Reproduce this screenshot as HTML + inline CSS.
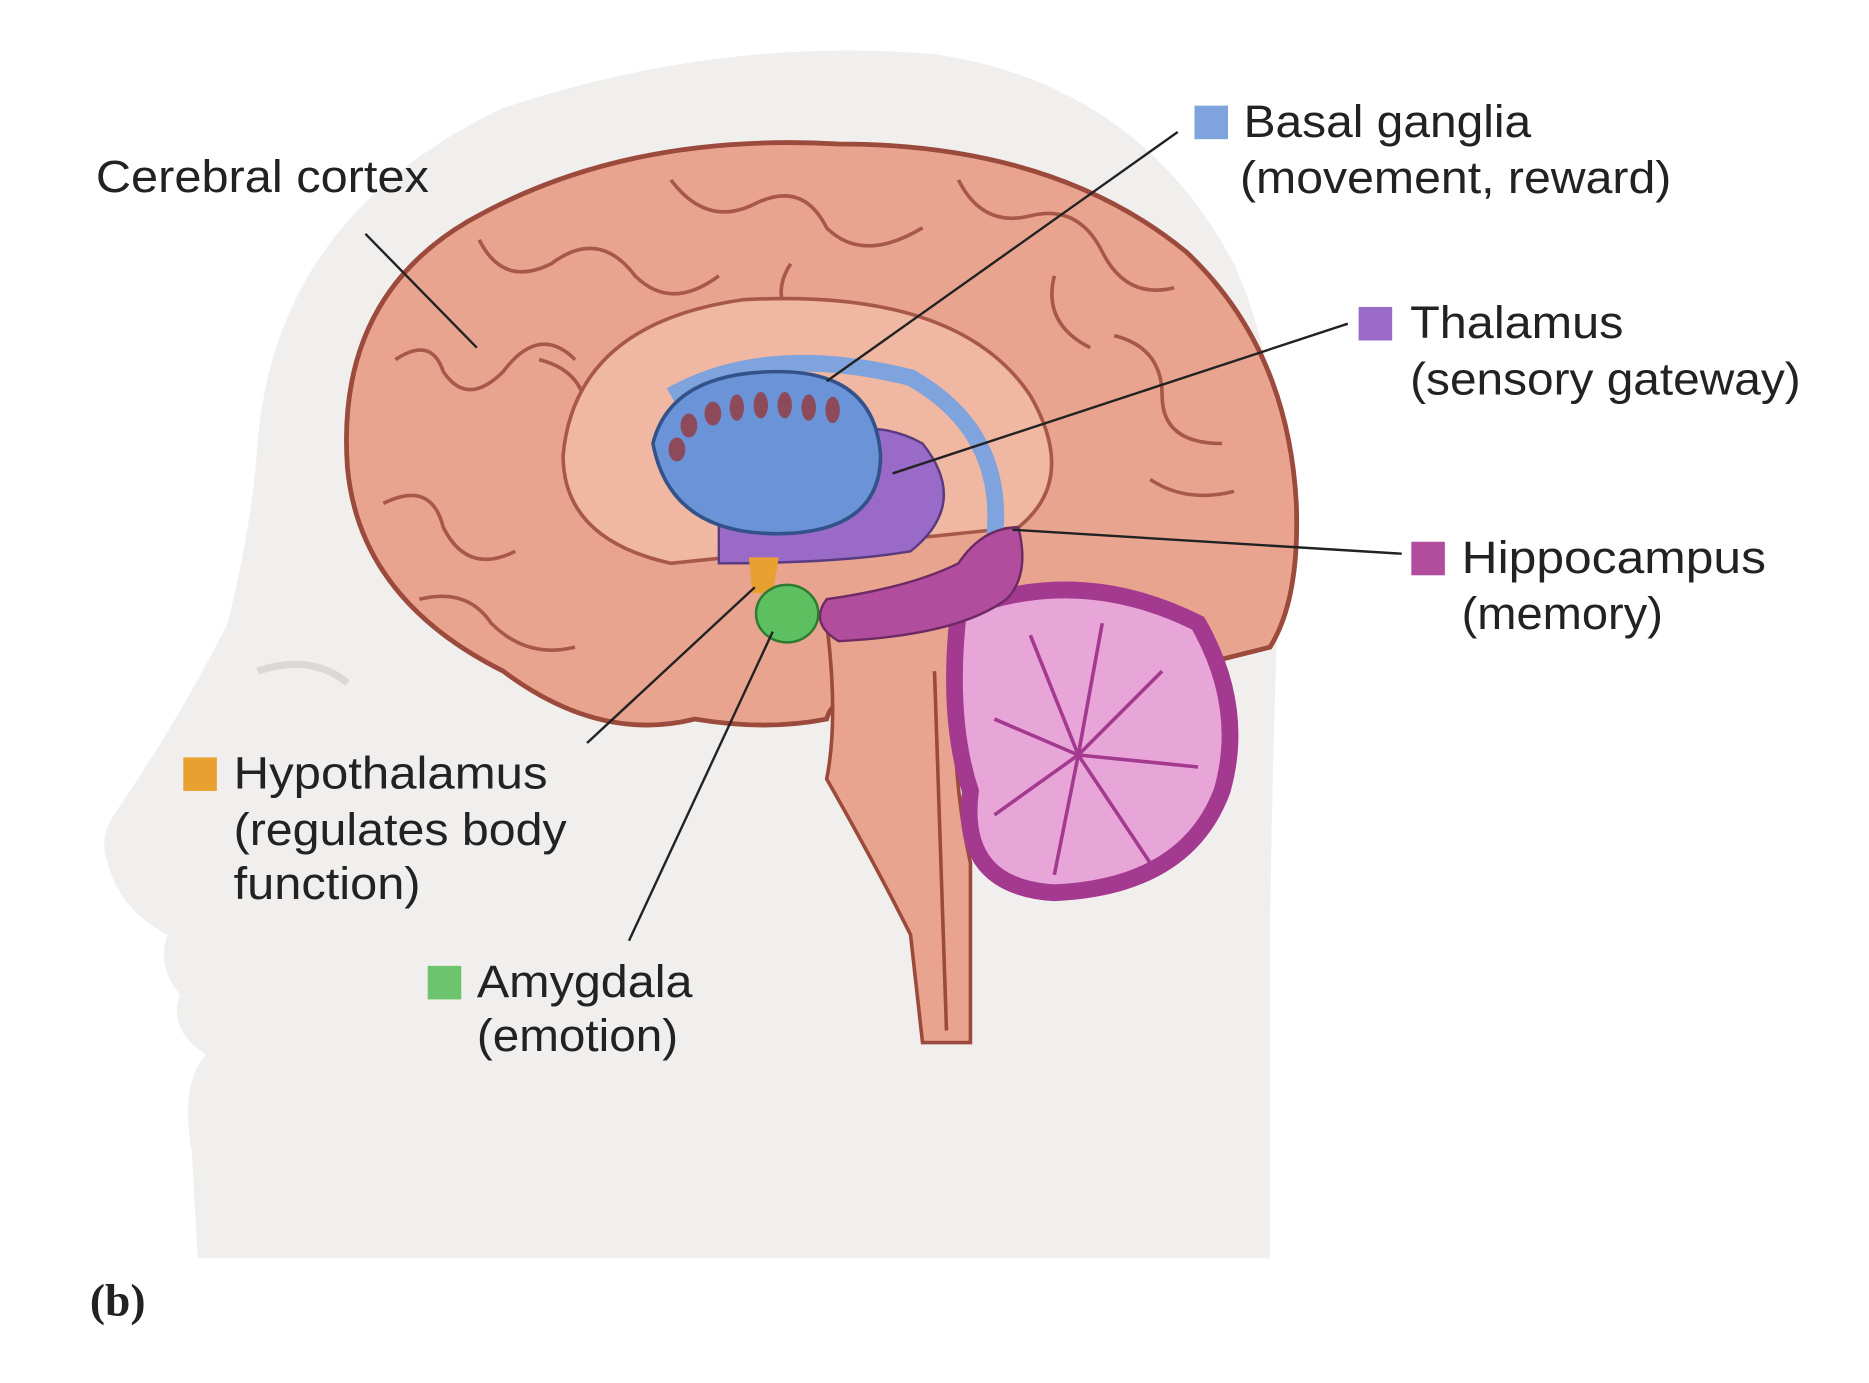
<!DOCTYPE html>
<html><head><meta charset="utf-8"><style>
html,body{margin:0;padding:0;background:#fff;}
svg{display:block;}
text{font-family:"Liberation Sans",sans-serif;fill:#222;}
</style></head><body>
<svg width="1869" height="1383" viewBox="0 0 1560 1154" xmlns="http://www.w3.org/2000/svg">
<rect width="1560" height="1154" fill="#fff"/>
<!-- head -->
<path d="M165 1050 L160 960 Q150 905 172 880 Q140 860 150 830 Q130 805 140 780 Q100 760 90 720 Q82 700 95 680 Q150 600 190 520 Q210 440 215 370 Q230 180 420 90 Q600 30 780 45 Q950 70 1030 220 Q1075 320 1068 470 Q1062 620 1060 780 L1060 1050 Z" fill="#f1efed"/>
<path d="M215 560 Q260 545 290 570" stroke="#dcd8d4" stroke-width="6" fill="none"/>
<!-- brain cortex -->
<path d="M290 390 Q280 250 390 185 Q520 110 700 120 Q880 120 990 210 Q1075 290 1082 420 Q1085 500 1060 540 L820 600 Q700 560 690 600 Q640 610 580 600 Q500 620 420 560 Q300 500 290 390 Z" fill="#e9a48f" stroke="#9b4a3c" stroke-width="4"/>
<g stroke="#a8584a" stroke-width="3" fill="none">
<path d="M330 300 q30 -20 40 10 q20 30 50 0 q30 -40 60 -10"/>
<path d="M400 200 q20 40 60 20 q40 -30 70 10 q30 30 70 0"/>
<path d="M560 150 q30 40 70 20 q40 -20 60 20 q30 30 80 0"/>
<path d="M800 150 q20 40 60 30 q40 -10 60 30 q20 40 60 30"/>
<path d="M320 420 q40 -20 50 20 q20 40 60 20"/>
<path d="M350 500 q40 -10 60 20 q30 30 70 20"/>
<path d="M930 280 q40 10 40 50 q0 40 50 40"/>
<path d="M960 400 q30 20 70 10"/>
<path d="M880 230 q-10 40 30 60"/>
<path d="M450 300 q40 10 40 50 q0 40 40 50"/>
<path d="M660 220 q-20 30 10 60 q30 20 60 0 q30 -20 60 10"/>
</g>
<!-- inner medial area -->
<path d="M470 380 Q480 270 620 250 Q800 240 860 330 Q900 400 850 440 L560 470 Q470 450 470 380 Z" fill="#f0b7a2" stroke="#a8584a" stroke-width="3"/>
<!-- brainstem -->
<path d="M690 520 Q700 600 690 650 Q730 720 760 780 L770 870 L810 870 L810 720 Q790 630 800 520 Z" fill="#e9a48f" stroke="#9b4a3c" stroke-width="3"/>
<path d="M780 560 L790 860" stroke="#9b4a3c" stroke-width="3"/>
<!-- cerebellum -->
<path d="M800 510 Q900 470 1000 520 Q1040 590 1020 660 Q990 740 880 745 Q800 740 810 660 Q790 600 800 510 Z" fill="#e8a6d8" stroke="#a43990" stroke-width="14"/>
<g stroke="#a43990" stroke-width="3" fill="none">
<path d="M900 630 L860 530 M900 630 L920 520 M900 630 L970 560 M900 630 L1000 640 M900 630 L960 720 M900 630 L880 730 M900 630 L830 680 M900 630 L830 600"/>
</g>
<!-- basal ganglia tail arc -->
<path d="M560 330 Q640 285 760 315 Q840 360 830 450 Q810 500 760 510" fill="none" stroke="#7ea3dd" stroke-width="14"/>
<!-- thalamus -->
<path d="M600 420 Q700 330 770 370 Q810 420 760 460 Q700 470 600 470 Z" fill="#9a6ac8" stroke="#5a3b80" stroke-width="2"/>
<!-- basal ganglia body -->
<path d="M545 370 Q560 310 650 310 Q730 310 735 380 Q735 440 660 445 Q560 450 545 370 Z" fill="#6b94d8" stroke="#34528a" stroke-width="3"/>
<g fill="#8c4a5a">
<ellipse cx="565" cy="375" rx="7" ry="10"/><ellipse cx="575" cy="355" rx="7" ry="10"/><ellipse cx="595" cy="345" rx="7" ry="10"/>
<ellipse cx="615" cy="340" rx="6" ry="11"/><ellipse cx="635" cy="338" rx="6" ry="11"/><ellipse cx="655" cy="338" rx="6" ry="11"/><ellipse cx="675" cy="340" rx="6" ry="11"/><ellipse cx="695" cy="342" rx="6" ry="11"/>
</g>
<!-- hypothalamus -->
<path d="M625 465 L650 465 L645 495 L628 495 Z" fill="#e8a030"/>
<!-- hippocampus -->
<path d="M690 500 Q760 490 800 470 Q820 440 850 440 Q860 480 840 500 Q800 530 700 535 Q675 520 690 500 Z" fill="#b24d9e" stroke="#6e2a63" stroke-width="2"/>
<!-- amygdala -->
<ellipse cx="657" cy="512" rx="26" ry="24" fill="#5cc060" stroke="#2d7a30" stroke-width="2"/>
<!-- leader lines -->
<g stroke="#222" stroke-width="2">
<line x1="305" y1="195" x2="398" y2="290"/>
<line x1="983" y1="110" x2="690" y2="318"/>
<line x1="1125" y1="270" x2="745" y2="395"/>
<line x1="1170" y1="462" x2="845" y2="442"/>
<line x1="490" y1="620" x2="630" y2="490"/>
<line x1="525" y1="785" x2="645" y2="527"/>
</g>
<!-- labels -->
<g font-size="38">
<text x="80" y="160" textLength="278" lengthAdjust="spacingAndGlyphs">Cerebral cortex</text>
<rect x="997" y="88" width="28" height="28" fill="#7ea3dd"/>
<text x="1038" y="114" textLength="240" lengthAdjust="spacingAndGlyphs">Basal ganglia</text>
<text x="1035" y="161" textLength="360" lengthAdjust="spacingAndGlyphs">(movement, reward)</text>
<rect x="1134" y="256" width="28" height="28" fill="#9a6ac8"/>
<text x="1177" y="282" textLength="178" lengthAdjust="spacingAndGlyphs">Thalamus</text>
<text x="1177" y="329" textLength="326" lengthAdjust="spacingAndGlyphs">(sensory gateway)</text>
<rect x="1178" y="452" width="28" height="28" fill="#b24d9e"/>
<text x="1220" y="478" textLength="254" lengthAdjust="spacingAndGlyphs">Hippocampus</text>
<text x="1220" y="525" textLength="168" lengthAdjust="spacingAndGlyphs">(memory)</text>
<rect x="153" y="632" width="28" height="28" fill="#e8a030"/>
<text x="195" y="658" textLength="262" lengthAdjust="spacingAndGlyphs">Hypothalamus</text>
<text x="195" y="705" textLength="278" lengthAdjust="spacingAndGlyphs">(regulates body</text>
<text x="195" y="750" textLength="156" lengthAdjust="spacingAndGlyphs">function)</text>
<rect x="357" y="806" width="28" height="28" fill="#6cc56e"/>
<text x="398" y="832" textLength="180" lengthAdjust="spacingAndGlyphs">Amygdala</text>
<text x="398" y="877" textLength="168" lengthAdjust="spacingAndGlyphs">(emotion)</text>
</g>
<text x="75" y="1098" font-weight="bold" font-size="38" style="font-family:'Liberation Serif',serif">(b)</text>
</svg>
</body></html>
